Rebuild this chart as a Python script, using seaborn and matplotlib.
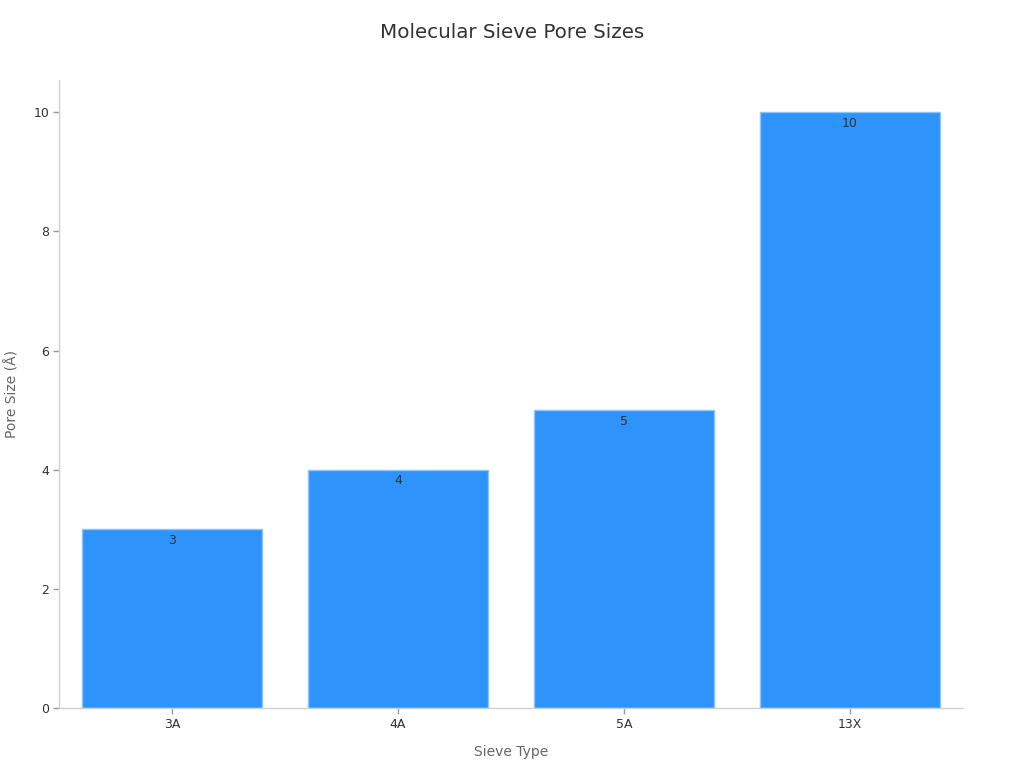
import matplotlib
matplotlib.use("Agg")
import matplotlib.pyplot as plt
import seaborn as sns
import pandas as pd

sieve_types = ["3A", "4A", "5A", "13X"]
pore_sizes = [3, 4, 5, 10]

df = pd.DataFrame({"Sieve Type": sieve_types, "Pore Size": pore_sizes})

sns.set_theme(style="white")
plt.rcParams['font.family'] = ['DejaVu Sans']

fig = plt.figure(figsize=(10.24, 7.68), dpi=100)
ax = fig.add_axes([0.0576, 0.0781, 0.8828, 0.8177])

sns.barplot(data=df, x="Sieve Type", y="Pore Size", color="#2E93FA",
            saturation=1, width=0.8, edgecolor="#8cc4fb", linewidth=1, ax=ax)

for i, v in enumerate(pore_sizes):
    ax.text(i, v - 0.08, str(v), ha="center", va="top", fontsize=9, color="#333333")

ax.set_xlim(-0.5, 3.5)
ax.set_ylim(0, 10.54)
ax.set_yticks([0, 2, 4, 6, 8, 10])

for side in ["top", "right"]:
    ax.spines[side].set_visible(False)
for side in ["left", "bottom"]:
    ax.spines[side].set_color("#d0d0d0")
    ax.spines[side].set_linewidth(1)

ax.tick_params(axis="both", bottom=True, left=True, labelsize=9,
               labelcolor="#333333", color="#999999", length=4, width=1, pad=3)

ax.set_xlabel("Sieve Type", fontsize=10, color="#666666", labelpad=10)
ax.set_ylabel("Pore Size (Å)", fontsize=10, color="#666666", labelpad=10)
fig.suptitle("Molecular Sieve Pore Sizes", fontsize=14.3, color="#333333", y=0.97)

fig.savefig("out.png", dpi=100)
